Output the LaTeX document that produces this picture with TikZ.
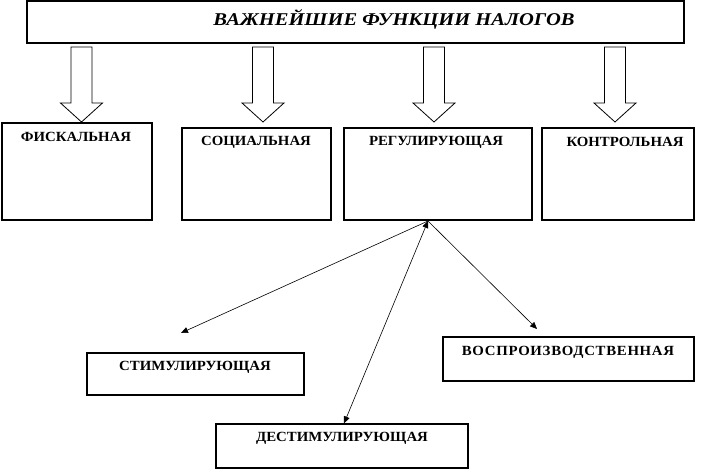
\documentclass[tikz,border=0pt]{standalone}
\usepackage{fontspec}
\setmainfont{Liberation Serif}
\newfontfamily\titlefont{Liberation Serif}[FakeStretch=1.14]
\newfontfamily\capfont{Liberation Serif}[FakeStretch=1.06]
\usetikzlibrary{arrows.meta}

\begin{document}
\begin{tikzpicture}[x=1pt,y=-1pt,
  box/.style={draw,line width=1.2pt,inner sep=0pt},
  caption/.style={font=\capfont\bfseries\fontsize{14}{16}\selectfont,inner sep=0pt},
  link/.style={line width=0.6pt,-{Triangle[length=7pt,width=6pt]}}]
\useasboundingbox (0,0) rectangle (710,470);
% title
\node [box,minimum width=657,minimum height=42] (title) at (355.5,22) {};
\node [font=\titlefont\bfseries\itshape\fontsize{18}{20}\selectfont,inner sep=0pt] (titleT) at (394,19) {ВАЖНЕЙШИЕ ФУНКЦИИ НАЛОГОВ};
% block arrows
\foreach \x in {81.5,263,434,615}
  \draw [line width=0.8pt] (\x-10.5,47) -- (\x+10.5,47) -- (\x+10.5,103) -- (\x+21,103)
    -- (\x,122) -- (\x-21,103) -- (\x-10.5,103) -- cycle;
% functions
\node [box,minimum width=150,minimum height=97] (fisk) at (77,171.5) {};
\node [caption] (fiskT) at (76,137) {ФИСКАЛЬНАЯ};
\node [box,minimum width=149,minimum height=92] (soc) at (256.5,174) {};
\node [caption] (socT) at (256,142) {СОЦИАЛЬНАЯ};
\node [box,minimum width=188,minimum height=92] (reg) at (438,174) {};
\node [caption] (regT) at (436,142) {РЕГУЛИРУЮЩАЯ};
\node [box,minimum width=152,minimum height=92] (kontr) at (618,174) {};
\node [caption] (kontrT) at (625,142) {КОНТРОЛЬНАЯ};
% kinds of regulation
\node [box,minimum width=217,minimum height=42] (stim) at (195.5,374) {};
\node [caption] (stimT) at (195,367) {СТИМУЛИРУЮЩАЯ};
\node [box,minimum width=251,minimum height=44] (vospr) at (568.5,359) {};
\node [caption] (vosprT) at (568,352) {\addfontfeature{LetterSpace=5}ВОСПРОИЗВОДСТВЕННАЯ};
\node [box,minimum width=252,minimum height=44] (destim) at (342,446) {};
\node [caption] (destimT) at (342,438) {ДЕСТИМУЛИРУЮЩАЯ};
% links
\coordinate (hub) at (428,221);
\coordinate (stimEnd) at (181,333);
\coordinate (vosprEnd) at (537,329);
\draw [link] (hub) -- (stimEnd);
\draw [link] (hub) -- (vosprEnd);
\draw [link,{Triangle[length=7pt,width=6pt]}-{Triangle[length=7pt,width=6pt]}] (hub) -- ([xshift=2]destim.north);
\end{tikzpicture}
\end{document}
